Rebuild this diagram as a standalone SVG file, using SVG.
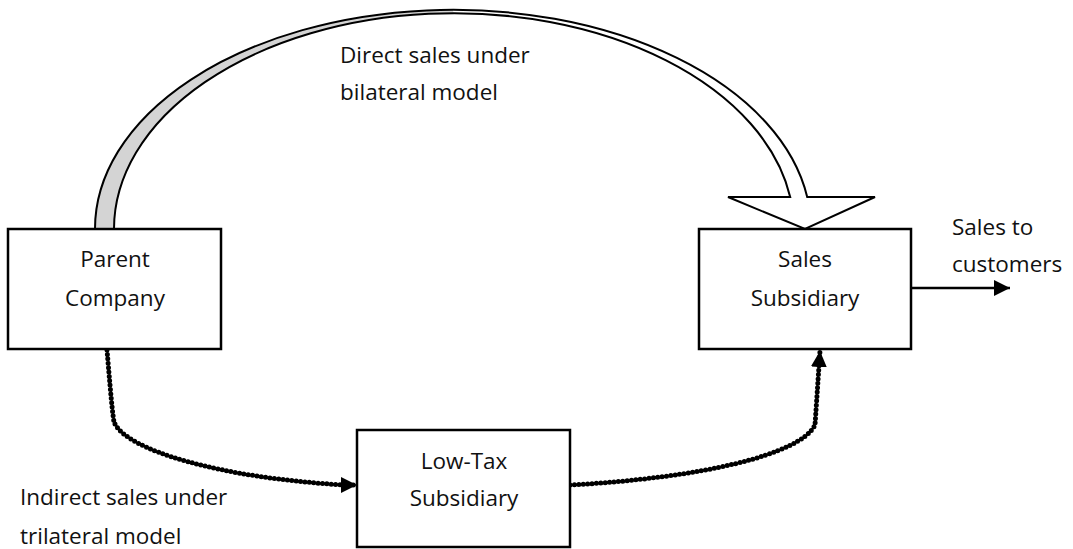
<svg xmlns="http://www.w3.org/2000/svg" width="1073" height="549" viewBox="0 0 1073 549">
<style>
text{font-family:"Open Sans","Liberation Sans",sans-serif;font-size:22.5px;fill:#111}
.box{fill:#fff;stroke:#000;stroke-width:2.5}
.dot{fill:none;stroke:#000;stroke-width:5;stroke-dasharray:0 4.4;stroke-linecap:round}
.mid{text-anchor:middle}
</style>
<defs>
<marker id="ah" markerUnits="userSpaceOnUse" markerWidth="17" markerHeight="16" refX="16" refY="8" orient="auto"><path d="M0,0 L16,8 L0,16 z" fill="#000"/></marker>
</defs>
<g id="connectors">
<g id="bilateral-arrow">
<path d="M95,229 A358,219 0 0 1 453,10 L454,13 A340,216 0 0 0 114,229 Z" fill="#d4d4d4"/>
<path d="M453,10 A358,219 0 0 1 807.2,197 L875,197 L805,229 L728,197 L790.2,197 A340,216 0 0 0 454,13 Z" fill="#fff"/>
<path d="M95,229 A358,219 0 0 1 807.2,197 L875,197 L805,229 L728,197 L790.2,197 A340,216 0 0 0 114,229" fill="none" stroke="#000" stroke-width="2" stroke-linejoin="miter"/>
</g>
<path class="dot" d="M107,350 C110,385 112,410 114,422 C125,450 220,478 345,485 L357,485" marker-end="url(#ah)"/>
<path class="dot" d="M570,485 C700,478 800,455 815,425 L820,351" marker-end="url(#ah)"/>
<path d="M911,288 L1010,288" fill="none" stroke="#000" stroke-width="2.5" marker-end="url(#ah)"/>
</g>
<g id="parent">
<rect class="box" x="8" y="229" width="213" height="120"/>
<text class="mid" x="115" y="267">Parent</text>
<text class="mid" x="115" y="306">Company</text>
</g>
<g id="sales">
<rect class="box" x="699" y="229" width="212" height="120"/>
<text class="mid" x="805" y="267">Sales</text>
<text class="mid" x="805" y="306">Subsidiary</text>
</g>
<g id="lowtax">
<rect class="box" x="357" y="430" width="213" height="117"/>
<text class="mid" x="464" y="469">Low-Tax</text>
<text class="mid" x="464" y="506">Subsidiary</text>
</g>
<g id="labels">
<text x="340" y="63">Direct sales under</text>
<text x="340" y="100">bilateral model</text>
<text x="20" y="505">Indirect sales under</text>
<text x="20" y="544">trilateral model</text>
<text x="952" y="235">Sales to</text>
<text x="952" y="272">customers</text>
</g>
</svg>
